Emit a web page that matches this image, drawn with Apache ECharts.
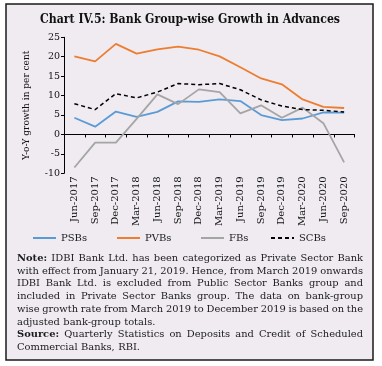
<!DOCTYPE html>
<html>
<head>
<meta charset="utf-8">
<script src="https://cdn.jsdelivr.net/npm/echarts@6/dist/echarts.min.js"></script>
<style>
html,body{margin:0;padding:0;background:#fff;}
#c{width:382px;height:366px;}
</style>
</head>
<body>
<div id="c"></div>
<script>
// ---- data ----
const categories = ['Jun-2017','Sep-2017','Dec-2017','Mar-2018','Jun-2018','Sep-2018','Dec-2018','Mar-2019','Jun-2019','Sep-2019','Dec-2019','Mar-2020','Jun-2020','Sep-2020'];
const psbs = [4.3, 2.0, 5.9, 4.5, 5.8, 8.5, 8.4, 9.0, 8.6, 5.0, 3.7, 4.1, 5.7, 5.6];
const pvbs = [20.1, 18.8, 23.3, 20.8, 21.9, 22.6, 21.8, 20.1, 17.3, 14.4, 12.9, 9.0, 7.1, 6.8];
const fbs  = [-8.5, -2.1, -2.1, 4.0, 10.3, 7.8, 11.6, 10.9, 5.4, 7.5, 4.3, 6.9, 2.9, -7.2];
const scbs = [7.9, 6.4, 10.5, 9.4, 10.9, 13.1, 12.8, 13.1, 11.5, 8.9, 7.3, 6.4, 6.2, 5.8];
const seriesNames = ['PSBs','PVBs','FBs','SCBs'];
const titleText = 'Chart IV.5: Bank Group-wise Growth in Advances';
const yAxisTitle = 'Y-o-Y growth in per cent';
const noteLines = [
  ['Note: IDBI Bank Ltd. has been categorized as Private Sector Bank', true],
  ['with effect from January 21, 2019. Hence, from March 2019 onwards', true],
  ['IDBI Bank Ltd. is excluded from Public Sector Banks group and', true],
  ['included in Private Sector Banks group. The data on bank-group', true],
  ['wise growth rate from March 2019 to December 2019 is based on the', true],
  ['adjusted bank-group totals.', false],
  ['Source: Quarterly Statistics on Deposits and Credit of Scheduled', true],
  ['Commercial Banks, RBI.', false]
];

const SERIF = '"DejaVu Serif", serif';
const colors = ['#5b9bd5','#ed7d31','#a5a5a5','#000000'];

const cv = document.createElement('canvas').getContext('2d');
function measure(text, font){ cv.font = font; return cv.measureText(text).width; }

const graphics = [];
graphics.push({type:'rect', z:-100, silent:true,
  shape:{x:6,y:4,width:367,height:356},
  style:{fill:'#efebf1', stroke:'#1a1a1a', lineWidth:1.5}});

// title
const titleFont = 'bold 12px ' + SERIF;
const tw = measure(titleText, titleFont);
graphics.push({type:'text', x:190, y:20, scaleX: 300/tw, z:10,
  style:{text:titleText, font:titleFont, fill:'#111', textAlign:'center', textVerticalAlign:'middle', align:'center', verticalAlign:'middle'}});

// notes (justified)
const noteFont = '9.6px ' + SERIF;
const noteBold = 'bold 9.6px ' + SERIF;
const SX = 1.03;
const L = 17, R = 363, y0 = 258.5, lh = 12.7;
noteLines.forEach((ln, i) => {
  const words = ln[0].split(' ');
  const fonts = words.map((w, k) => (k === 0 && (w === 'Note:' || w === 'Source:')) ? noteBold : noteFont);
  const widths = words.map((w, k) => measure(w, fonts[k]) * SX);
  const total = widths.reduce((a,b)=>a+b,0);
  const gap = ln[1] ? (R - L - total) / (words.length - 1) : measure(' ', noteFont) * SX * 1.1;
  let x = L;
  words.forEach((w, k) => {
    graphics.push({type:'text', x:x, y:y0 + i*lh, scaleX:SX, z:10,
      style:{text:w, font:fonts[k], fill:'#1a1a1a', textAlign:'left', textVerticalAlign:'middle', align:'left', verticalAlign:'middle'}});
    x += widths[k] + gap;
  });
});

const legendX = [32, 116, 200, 270];
const legends = seriesNames.map((n, i) => ({
  data:[n], left: legendX[i], top: 233, itemWidth: 23, itemHeight: 8, itemGap: 0,
  itemStyle:{opacity:0, borderWidth:0},
  textStyle:{fontFamily:SERIF, fontSize:10, color:'#1a1a1a'},
  padding:0
}));

const chart = echarts.init(document.getElementById('c'), null, {renderer:'canvas'});
chart.setOption({
  backgroundColor:'#ffffff',
  animation:false,
  graphic:{elements:graphics},
  legend: legends,
  grid:{left:64, right:27.5, top:37.3, bottom:192.7, containLabel:false},
  xAxis:[
    {type:'category', data:categories, position:'bottom', boundaryGap:true,
     axisLine:{show:false, onZero:false}, axisTick:{show:false},
     axisLabel:{rotate:90, margin:3, fontFamily:SERIF, fontSize:10, color:'#111', interval:0}},
    {type:'category', data:categories, position:'bottom', boundaryGap:true,
     axisLine:{show:true, onZero:true, onZeroAxisIndex:0, lineStyle:{color:'#000', width:1}},
     axisTick:{show:true, length:3, lineStyle:{color:'#000'}, interval:0},
     axisLabel:{show:false}}
  ],
  yAxis:{type:'value', min:-10, max:25, interval:5,
    name:yAxisTitle, nameLocation:'middle', nameRotate:90, nameGap:33,
    nameTextStyle:{fontFamily:SERIF, fontSize:9, color:'#111'},
    axisLine:{show:true, lineStyle:{color:'#000', width:1}},
    axisTick:{show:true, length:3, lineStyle:{color:'#000'}},
    axisLabel:{fontFamily:SERIF, fontSize:9.5, color:'#111', margin:4},
    splitLine:{show:false}},
  series:[
    {name:seriesNames[0], type:'line', data:psbs, symbol:'none', color:colors[0], lineStyle:{width:1.8, color:colors[0]}},
    {name:seriesNames[1], type:'line', data:pvbs, symbol:'none', color:colors[1], lineStyle:{width:1.8, color:colors[1]}},
    {name:seriesNames[2], type:'line', data:fbs, symbol:'none', color:colors[2], lineStyle:{width:1.8, color:colors[2]}},
    {name:seriesNames[3], type:'line', data:scbs, symbol:'none', color:colors[3], lineStyle:{width:1.5, color:colors[3], type:[4,3]}}
  ]
});
</script>
</body>
</html>
